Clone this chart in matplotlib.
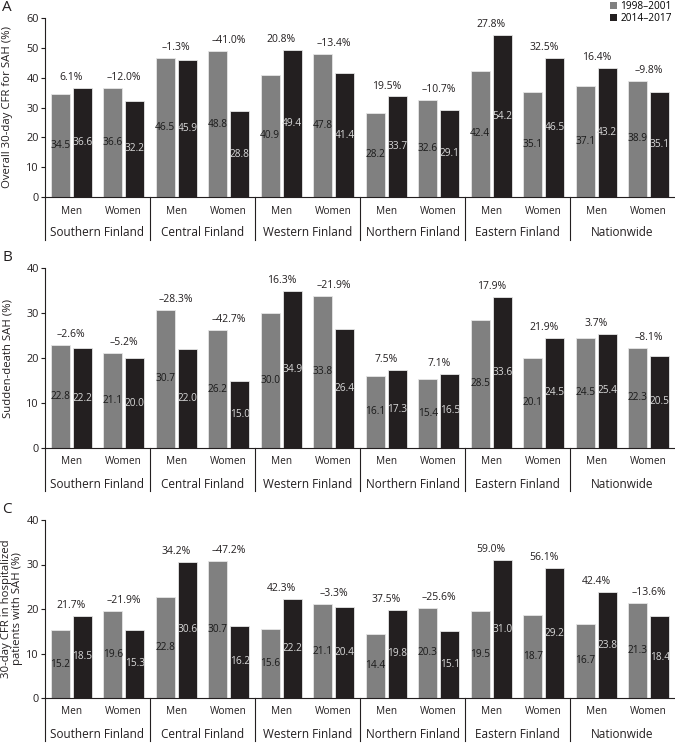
import matplotlib
matplotlib.use("Agg")
import matplotlib.pyplot as plt
from matplotlib.transforms import blended_transform_factory
from matplotlib.patches import Patch
import numpy as np

plt.rcParams['font.family'] = ['Open Sans', 'DejaVu Sans']

regions = ["Southern Finland", "Central Finland", "Western Finland",
           "Northern Finland", "Eastern Finland", "Nationwide"]
sexes = ["Men", "Women"]
series_names = ["1998\u20132001", "2014\u20132017"]

# Panel A: overall 30-day CFR (%)
a_early = [34.5, 36.6, 46.5, 48.8, 40.9, 47.8, 28.2, 32.6, 42.4, 35.1, 37.1, 38.9]
a_late = [36.6, 32.2, 45.9, 28.8, 49.4, 41.4, 33.7, 29.1, 54.2, 46.5, 43.2, 35.1]
a_change = [6.1, -12.0, -1.3, -41.0, 20.8, -13.4, 19.5, -10.7, 27.8, 32.5, 16.4, -9.8]

# Panel B: sudden-death SAH (%)
b_early = [22.8, 21.1, 30.7, 26.2, 30.0, 33.8, 16.1, 15.4, 28.5, 20.1, 24.5, 22.3]
b_late = [22.2, 20.0, 22.0, 15.0, 34.9, 26.4, 17.3, 16.5, 33.6, 24.5, 25.4, 20.5]
b_change = [-2.6, -5.2, -28.3, -42.7, 16.3, -21.9, 7.5, 7.1, 17.9, 21.9, 3.7, -8.1]

# Panel C: 30-day CFR in hospitalized patients (%)
c_early = [15.2, 19.6, 22.8, 30.7, 15.6, 21.1, 14.4, 20.3, 19.5, 18.7, 16.7, 21.3]
c_late = [18.5, 15.3, 30.6, 16.2, 22.2, 20.4, 19.8, 15.1, 31.0, 29.2, 23.8, 18.4]
c_change = [21.7, -21.9, 34.2, -47.2, 42.3, -3.3, 37.5, -25.6, 59.0, 56.1, 42.4, -13.6]

panels = [
    ("A", "Overall 30-day CFR for SAH (%)", a_early, a_late, a_change, 60, [0, 10, 20, 30, 40, 50, 60]),
    ("B", "Sudden-death SAH (%)", b_early, b_late, b_change, 40, [0, 10, 20, 30, 40]),
    ("C", "30-day CFR in hospitalized\npatients with SAH (%)", c_early, c_late, c_change, 40, [0, 10, 20, 30, 40]),
]

W, H = 675, 743
fig = plt.figure(figsize=(W / 100, H / 100), dpi=100)

GREY = "#808080"
BLACK = "#231f20"
TXT = "#231f20"

# (top px, bottom px) of each plotting area
boxes = [(18, 197), (268, 448), (520, 698)]
left_px = 45
right_px = 675

labels_all = [s for _ in regions for s in sexes]
x = np.arange(len(labels_all))
bw = 0.36
off = 0.21

for (letter, ylab, early, late, change, ymax, yt), (top, bot) in zip(panels, boxes):
    ax = fig.add_axes([left_px / W, 1 - bot / H, (right_px - left_px) / W, (bot - top) / H])
    ax.bar(x - off, early, bw, color=GREY, edgecolor="#e6e6e6", linewidth=0.6)
    ax.bar(x + off, late, bw, color=BLACK, edgecolor="#e6e6e6", linewidth=0.6)
    ax.set_xlim(-0.5, len(x) - 0.5)
    ax.set_ylim(0, ymax)
    ax.set_yticks(yt)
    ax.tick_params(axis='y', labelsize=7.8, length=3, width=0.8, pad=1.5, colors=TXT)
    ax.set_xticks([])
    for s in ["top", "right"]:
        ax.spines[s].set_visible(False)
    ax.spines["left"].set_color(TXT)
    ax.spines["bottom"].set_color(TXT)
    ax.spines["left"].set_linewidth(0.8)
    ax.spines["bottom"].set_linewidth(0.8)

    ph = bot - top
    for i in range(len(x)):
        ax.text(x[i] - off, early[i] / 2, f"{early[i]:.1f}", ha="center", va="center",
                fontsize=7.3, color="#1a1a1a")
        ax.text(x[i] + off, late[i] / 2, f"{late[i]:.1f}", ha="center", va="center",
                fontsize=7.3, color="#d9d9d9")
        ch = change[i]
        s = (f"{ch:.1f}%" if ch >= 0 else f"\u2013{abs(ch):.1f}%")
        ax.annotate(s, (x[i], max(early[i], late[i])), xytext=(0, 7.5),
                    textcoords="offset points", ha="center", va="center",
                    fontsize=7.5, color=TXT)

    tr = blended_transform_factory(ax.transData, ax.transAxes)
    for i, lab in enumerate(labels_all):
        ax.text(x[i], -14 / ph, lab, transform=tr, ha="center", va="center",
                fontsize=7.3, color=TXT)
    for r, reg in enumerate(regions):
        ax.text(2 * r + 0.5, -36 / ph, reg, transform=tr, ha="center", va="center",
                fontsize=8.5, color=TXT)
    for sx in [-0.5, 1.5, 3.5, 5.5, 7.5, 9.5]:
        ax.plot([sx, sx], [0, -43 / ph], transform=tr, color=TXT, lw=0.8, clip_on=False)

    fig.text(2 / W, 1 - (top - 10.5) / H, letter, ha="left", va="center", fontsize=11, color=TXT)
    cx = 12 if "\n" in ylab else 8
    fig.text(cx / W, 1 - (top + bot) / 2 / H, ylab, rotation=90, ha="center", va="center",
             fontsize=8.2, color=TXT, multialignment="center", linespacing=1.1)

handles = [Patch(facecolor=GREY, edgecolor="none"), Patch(facecolor=BLACK, edgecolor="none")]
fig.legend(handles, series_names, loc="upper right", bbox_to_anchor=(1.0, 1.003),
           frameon=False, fontsize=7.3, handlelength=0.7, handleheight=0.7,
           handletextpad=0.3, labelspacing=0.15, borderpad=0.2, borderaxespad=0.1)

fig.savefig("out.png", dpi=100)
